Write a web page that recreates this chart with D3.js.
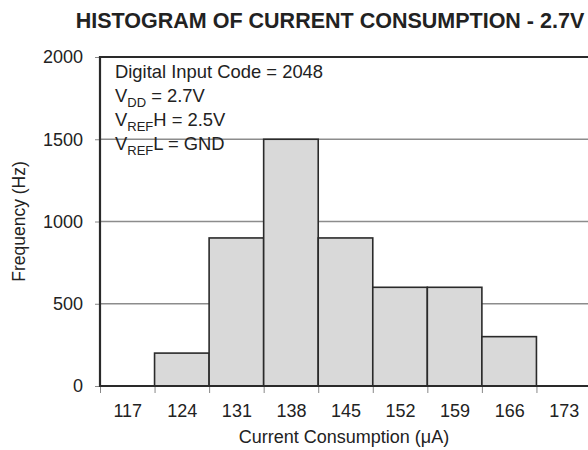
<!DOCTYPE html>
<html>
<head>
<meta charset="utf-8">
<script src="https://cdn.jsdelivr.net/npm/d3@7"></script>
<style>
  body { margin: 0; background: #fff; }
  text { font-family: "Liberation Sans", Arial, Helvetica, sans-serif; fill: #222; }
</style>
</head>
<body>
<div id="chart"></div>
<script>
var svgWidth = 588;
var svgHeight = 450;

// bin centres (µA) and counts
var binCenters = [117, 124, 131, 138, 145, 152, 159, 166, 173];
var counts = [0, 200, 900, 1500, 900, 600, 600, 300, 0];
var binWidth = 7;
var yTicks = [0, 500, 1000, 1500, 2000];

var margin = { top: 57, left: 100, bottom: 64 };
var plotRight = 591;   // plot runs past the edge of the picture
var plotBottom = svgHeight - margin.bottom;

var svg = d3.select("#chart")
  .append("svg")
  .attr("width", svgWidth)
  .attr("height", svgHeight);

var x = d3.scaleLinear()
  .domain([binCenters[0] - binWidth / 2, binCenters[binCenters.length - 1] + binWidth / 2])
  .range([margin.left, plotRight]);

var y = d3.scaleLinear()
  .domain([0, 2000])
  .range([plotBottom, margin.top]);

// gridlines
svg.append("g")
  .selectAll("line")
  .data([500, 1000, 1500])
  .enter()
  .append("line")
  .attr("x1", margin.left)
  .attr("x2", plotRight)
  .attr("y1", d => y(d))
  .attr("y2", d => y(d))
  .attr("stroke", "#8c8c8c")
  .attr("stroke-width", 1.3);

// bars
svg.append("g")
  .selectAll("rect")
  .data(binCenters.map((c, i) => ({ c: c, v: counts[i] })).filter(d => d.v > 0))
  .enter()
  .append("rect")
  .attr("x", d => x(d.c - binWidth / 2))
  .attr("width", d => x(d.c + binWidth / 2) - x(d.c - binWidth / 2))
  .attr("y", d => y(d.v))
  .attr("height", d => y(0) - y(d.v))
  .attr("fill", "#d9d9d9")
  .attr("stroke", "#2a2a2a")
  .attr("stroke-width", 1.6);

// tick marks at bin edges
var edges = binCenters.map(c => c - binWidth / 2).concat([binCenters[binCenters.length - 1] + binWidth / 2]);
svg.append("g")
  .attr("transform", `translate(0, ${plotBottom})`)
  .call(d3.axisBottom(x).tickValues(edges).tickSize(7).tickFormat(""))
  .call(g => g.select(".domain").remove())
  .call(g => g.selectAll(".tick line").attr("stroke", "#888"));

// tick labels at bin centres
svg.append("g")
  .attr("transform", `translate(0, ${plotBottom})`)
  .call(d3.axisBottom(x).tickValues(binCenters).tickSize(0).tickPadding(18).tickFormat(d3.format("d")))
  .call(g => g.select(".domain").remove())
  .call(g => g.selectAll(".tick text").style("font-size", "18px"));

// y axis
svg.append("g")
  .attr("transform", `translate(${margin.left}, 0)`)
  .call(d3.axisLeft(y).tickValues(yTicks).tickSize(5).tickPadding(12).tickFormat(d3.format("d")))
  .call(g => g.select(".domain").remove())
  .call(g => g.selectAll(".tick line").attr("stroke", "#888"))
  .call(g => g.selectAll(".tick text").style("font-size", "18px"));

// frame: left, top and bottom
svg.append("path")
  .attr("d", `M${plotRight},${margin.top}H${margin.left}V${plotBottom}H${plotRight}`)
  .attr("fill", "none")
  .attr("stroke", "#2a2a2a")
  .attr("stroke-width", 2.2);

// title
svg.append("text")
  .attr("x", 330)
  .attr("y", 28)
  .attr("text-anchor", "middle")
  .style("font-size", "21.5px")
  .style("font-weight", "bold")
  .text("HISTOGRAM OF CURRENT CONSUMPTION - 2.7V");

// axis labels
svg.append("text")
  .attr("transform", "rotate(-90)")
  .attr("x", -(margin.top + plotBottom) / 2)
  .attr("y", 25)
  .attr("text-anchor", "middle")
  .style("font-size", "17.5px")
  .text("Frequency (Hz)");

svg.append("text")
  .attr("x", 344)
  .attr("y", 443)
  .attr("text-anchor", "middle")
  .style("font-size", "18px")
  .text("Current Consumption (\u03bcA)");

// conditions box text
var notes = svg.append("g").style("font-size", "18.4px");
notes.append("text").attr("x", 115).attr("y", 78).text("Digital Input Code = 2048");

var l2 = notes.append("text").attr("x", 115).attr("y", 102);
l2.append("tspan").text("V");
l2.append("tspan").attr("dy", 5).style("font-size", "13px").text("DD");
l2.append("tspan").attr("dy", -5).text(" = 2.7V");

var l3 = notes.append("text").attr("x", 115).attr("y", 126);
l3.append("tspan").text("V");
l3.append("tspan").attr("dy", 5).style("font-size", "13px").text("REF");
l3.append("tspan").attr("dy", -5).text("H = 2.5V");

var l4 = notes.append("text").attr("x", 115).attr("y", 150);
l4.append("tspan").text("V");
l4.append("tspan").attr("dy", 5).style("font-size", "13px").text("REF");
l4.append("tspan").attr("dy", -5).text("L = GND");
</script>
</body>
</html>
